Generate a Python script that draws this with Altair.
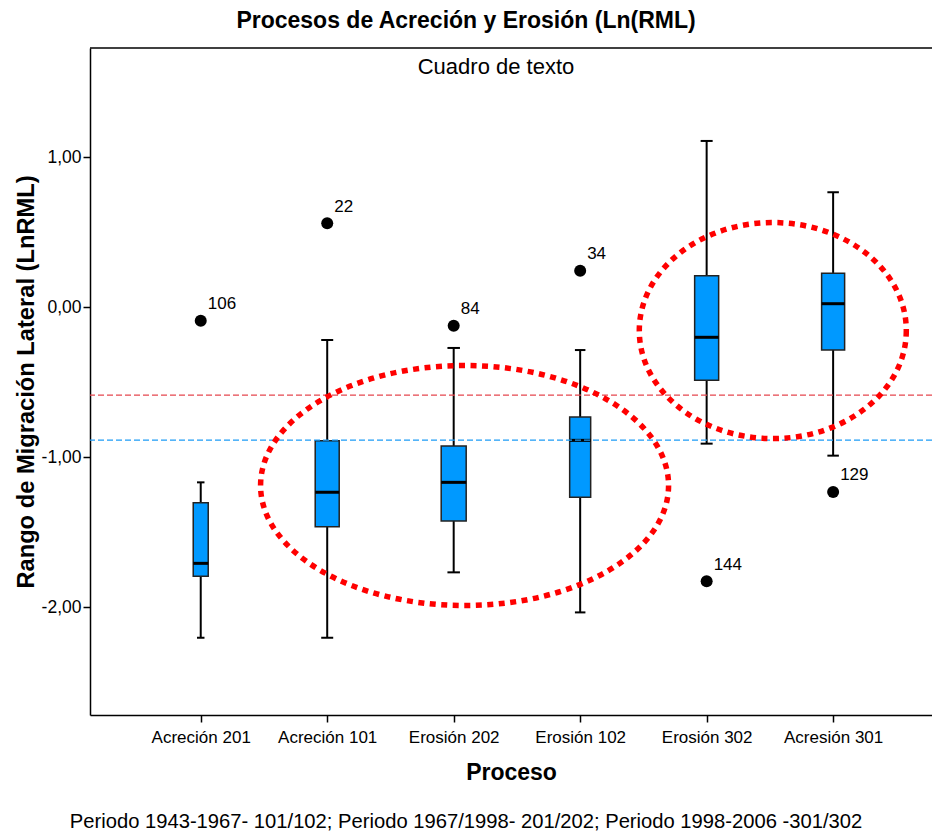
import altair as alt
import pandas as pd

# Box plot summaries of ln(RML) per process
categories = ["Acreción 201", "Acreción 101", "Erosión 202",
              "Erosión 102", "Erosión 302", "Acresión 301"]
whisker_low = [-2.205, -2.205, -1.769, -2.036, -0.911, -0.991]
q1 = [-1.795, -1.465, -1.427, -1.269, -0.489, -0.287]
median = [-1.709, -1.235, -1.169, -0.889, -0.202, 0.022]
q3 = [-1.305, -0.891, -0.927, -0.733, 0.209, 0.225]
whisker_high = [-1.169, -0.220, -0.273, -0.287, 1.107, 0.765]

# Outlying cases (group number, value, case id)
outlier_group = [1, 2, 3, 4, 5, 6]
outlier_value = [-0.091, 0.558, -0.125, 0.242, -1.829, -1.233]
outlier_case = ["106", "22", "84", "34", "144", "129"]

# Horizontal reference lines
ref_values = [-0.587, -0.887]
ref_colors = ["#e5474f", "#1c9cf6"]

# Box widths in pixels (SPSS scales them with group size)
box_width_px = [15, 24, 25, 21, 24, 23]

# Dotted highlight ellipses: centre (data units) and radii (px)
ell_cx = [3.086, 5.523]
ell_cy = [-1.19, -0.157]
ell_rx = [204, 133.5]
ell_ry = [120, 108]

FONT = "Liberation Sans"
X_DOMAIN = [1 - 107 / 128, 1 + (842 - 107) / 128]
Y_DOMAIN = [-2.72, -2.72 + 667 / 150]

boxes = pd.DataFrame({
    "pos": list(range(1, len(categories) + 1)),
    "lo": whisker_low, "q1": q1, "med": median, "q3": q3, "hi": whisker_high,
    "bw": box_width_px,
    "cw": [w / 2 for w in box_width_px],
})
outliers = pd.DataFrame({"pos": outlier_group, "val": outlier_value,
                         "case": outlier_case})
refs = pd.DataFrame({"val": ref_values, "color": ref_colors})

x_labels = "[" + ",".join(f"'{c}'" for c in categories) + "][datum.value - 1]"
y_labels = ("(datum.value < 0 ? '-' : '') + "
            "replace(format(abs(datum.value), '.2f'), '.', ',')")

x_scale = alt.Scale(domain=X_DOMAIN, nice=False, zero=False)
y_scale = alt.Scale(domain=Y_DOMAIN, nice=False, zero=False)

x_axis = alt.Axis(values=list(range(1, 7)), labelExpr=x_labels, title="Proceso",
                  grid=False, tickSize=7, labelPadding=7, labelFontSize=17,
                  labelFlush=False, labelOverlap=False, titlePadding=16)
y_axis = alt.Axis(values=[-2, -1, 0, 1], labelExpr=y_labels,
                  title="Rango de Migración Lateral (LnRML)",
                  grid=False, tickSize=7, labelPadding=2, labelFontSize=17.5,
                  labelFlush=False, titlePadding=3, titleFontSize=23.7)


def X(field):
    return alt.X(field, type="quantitative", scale=x_scale, axis=x_axis)


def Y(field):
    return alt.Y(field, type="quantitative", scale=y_scale, axis=y_axis)


base = alt.Chart(boxes)

whiskers = base.mark_rule(color="black", strokeWidth=2).encode(
    x=X("pos"), y=Y("lo"), y2="hi:Q")
caps_low = base.mark_tick(orient="horizontal", color="black", thickness=2,
                          opacity=1).encode(
    x=X("pos"), y=Y("lo"), size=alt.Size("cw:Q", scale=None))
caps_high = base.mark_tick(orient="horizontal", color="black", thickness=2,
                           opacity=1).encode(
    x=X("pos"), y=Y("hi"), size=alt.Size("cw:Q", scale=None))
box = base.mark_bar(fill="#0099ff", stroke="#222222", strokeWidth=1.5,
                    opacity=1).encode(
    x=X("pos"), y=Y("q1"), y2="q3:Q", size=alt.Size("bw:Q", scale=None))
med = base.mark_tick(orient="horizontal", color="black", thickness=3,
                     opacity=1).encode(
    x=X("pos"), y=Y("med"), size=alt.Size("bw:Q", scale=None))

ref_lines = alt.Chart(refs).mark_rule(strokeWidth=1.3, strokeDash=[6, 3]).encode(
    y=Y("val"), color=alt.Color("color:N", scale=None))

top_frame = alt.Chart(pd.DataFrame({"t": [0]})).mark_rule(
    color="black", strokeWidth=1.5).encode(y=alt.datum(Y_DOMAIN[1]))


def ellipse_path(ratio):
    c = 0.5523
    r = ratio
    return (f"M1,0 C1,{c*r:.4f} {c:.4f},{r:.4f} 0,{r:.4f} "
            f"C{-c:.4f},{r:.4f} -1,{c*r:.4f} -1,0 "
            f"C-1,{-c*r:.4f} {-c:.4f},{-r:.4f} 0,{-r:.4f} "
            f"C{c:.4f},{-r:.4f} 1,{-c*r:.4f} 1,0 Z")


ellipses = []
for cx, cy, rx, ry in zip(ell_cx, ell_cy, ell_rx, ell_ry):
    ellipses.append(
        alt.Chart(pd.DataFrame({"cx": [cx], "cy": [cy]})).mark_point(
            shape=ellipse_path(ry / rx), size=(2 * rx) ** 2, filled=False,
            stroke="#ff0000", strokeWidth=5.5, strokeDash=[6, 5.5],
            strokeCap="butt", opacity=1,
        ).encode(x=X("cx"), y=Y("cy"))
    )

out_pts = alt.Chart(outliers).mark_circle(size=144, color="black",
                                          opacity=1).encode(
    x=X("pos"), y=Y("val"))
out_lbl = alt.Chart(outliers).mark_text(
    align="left", baseline="alphabetic", dx=7, dy=-11.5, fontSize=17,
    font=FONT, color="black").encode(x=X("pos"), y=Y("val"), text="case:N")

one = pd.DataFrame({"t": [0]})
text_box = alt.Chart(one).mark_text(
    text="Cuadro de texto", fontSize=22, font=FONT, color="black",
    align="center", baseline="alphabetic").encode(
    x=alt.value(406), y=alt.value(26))
footnote = alt.Chart(one).mark_text(
    text="Periodo 1943-1967- 101/102; Periodo 1967/1998- 201/202; "
         "Periodo 1998-2006 -301/302",
    fontSize=20.2, font=FONT, color="black", align="center",
    baseline="alphabetic").encode(x=alt.value(376), y=alt.value(780))

chart = alt.layer(
    whiskers, caps_low, caps_high, box, med, ref_lines, top_frame,
    *ellipses, out_pts, out_lbl, text_box, footnote,
).properties(
    width=842, height=667,
    padding={"left": 90, "top": 48, "right": 0, "bottom": 118},
    autosize=alt.AutoSizeParams(type="none"),
    title=alt.Title("Procesos de Acreción y Erosión (Ln(RML)", fontSize=23,
                    fontWeight="bold", font=FONT, anchor="middle", dx=-45,
                    dy=25, offset=21, baseline="alphabetic", color="black"),
).configure_view(stroke=None).configure_axis(
    domainColor="black", domainWidth=1.5, tickColor="black", tickWidth=1.5,
    labelColor="black", titleColor="black", labelFont=FONT, titleFont=FONT,
    titleFontSize=23, titleFontWeight="bold",
)

chart.save("out.html", embed_options={"renderer": "svg", "actions": False})
